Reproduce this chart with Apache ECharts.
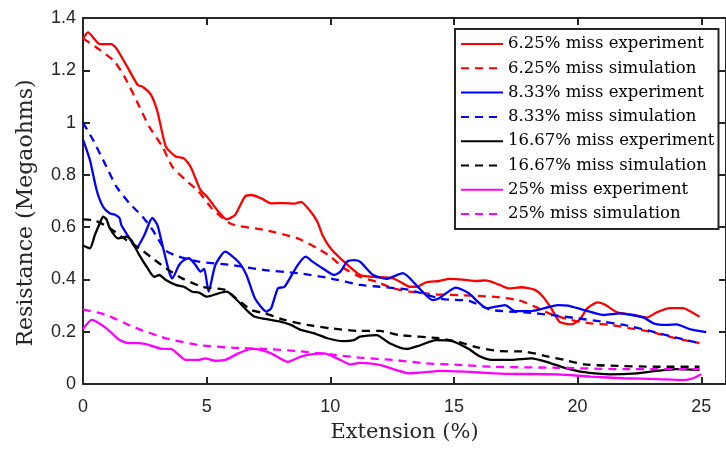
<!DOCTYPE html>
<html>
<head>
<meta charset="utf-8">
<script src="https://cdn.jsdelivr.net/npm/echarts@6/dist/echarts.min.js"></script>
<style>
html,body{margin:0;padding:0;background:#fff;}
#chart{width:726px;height:449px;}
</style>
</head>
<body>
<div id="chart"></div>
<script>
// ---- Data (x = Extension %, y = Resistance MΩ) ----
const seriesNames = [
  '6.25% miss experiment', '6.25% miss simulation',
  '8.33% miss experiment', '8.33% miss simulation',
  '16.67% miss experiment', '16.67% miss simulation',
  '25% miss experiment', '25% miss simulation'
];
const xTicks = [0, 5, 10, 15, 20, 25];
const yTicks = [0, 0.2, 0.4, 0.6, 0.8, 1, 1.2, 1.4];

const exp625 = [[0,1.32],[0.2,1.345],[0.68,1.30],[1.15,1.30],[1.35,1.284],[1.81,1.21],[2.21,1.144],[2.41,1.137],[2.75,1.106],[3.01,1.042],[3.35,0.908],[3.75,0.870],[4.08,0.863],[4.35,0.831],[4.75,0.742],[5.01,0.717],[5.48,0.659],[5.81,0.630],[6.15,0.647],[6.55,0.717],[6.81,0.723],[7.21,0.710],[7.61,0.691],[8.15,0.692],[8.55,0.69],[8.81,0.697],[9.21,0.659],[9.48,0.62],[9.68,0.570],[10.01,0.519],[10.55,0.468],[11.2,0.417],[11.73,0.41],[12.53,0.404],[12.93,0.385],[13.2,0.372],[13.5,0.372],[13.87,0.389],[14.4,0.394],[14.8,0.402],[15.47,0.398],[15.87,0.394],[16.27,0.396],[16.8,0.381],[17.2,0.366],[17.73,0.370],[18.27,0.360],[18.6,0.334],[18.93,0.29],[19.27,0.238],[19.73,0.228],[20.07,0.245],[20.4,0.29],[20.8,0.312],[21.13,0.302],[21.6,0.274],[22.27,0.264],[22.8,0.254],[23.2,0.274],[23.73,0.290],[24.27,0.29],[24.53,0.279],[24.93,0.257]];
const sim625 = [[0,1.322],[0.68,1.278],[1.28,1.233],[1.75,1.163],[2.28,1.061],[2.68,0.984],[3.21,0.908],[3.61,0.831],[4.15,0.780],[4.68,0.736],[5.21,0.672],[6.0,0.612],[7.35,0.589],[8.68,0.557],[9.48,0.519],[10.01,0.487],[10.55,0.443],[11.2,0.41],[11.87,0.391],[12.53,0.366],[13.2,0.353],[14.27,0.343],[15.2,0.340],[16.53,0.334],[17.6,0.321],[18.27,0.296],[18.93,0.267],[19.73,0.245],[20.53,0.232],[21.33,0.226],[22.13,0.213],[22.93,0.2],[23.87,0.177],[24.93,0.156]];
const exp833 = [[0,0.935],[0.28,0.857],[0.55,0.742],[0.81,0.678],[1.08,0.653],[1.28,0.648],[1.48,0.634],[1.55,0.608],[1.88,0.557],[2.15,0.519],[2.48,0.570],[2.8,0.635],[3.01,0.608],[3.21,0.532],[3.48,0.43],[3.61,0.404],[3.88,0.455],[4.08,0.474],[4.28,0.481],[4.55,0.455],[4.75,0.43],[4.9,0.44],[5.08,0.353],[5.35,0.455],[5.75,0.506],[6.28,0.468],[6.61,0.417],[6.95,0.328],[7.41,0.277],[7.61,0.29],[7.88,0.366],[8.15,0.372],[8.68,0.455],[9.01,0.487],[9.28,0.468],[9.68,0.443],[10.15,0.417],[10.41,0.43],[10.68,0.468],[10.95,0.474],[11.2,0.468],[11.73,0.417],[12.27,0.402],[12.93,0.424],[13.6,0.366],[14.13,0.321],[14.4,0.328],[15.07,0.369],[15.6,0.347],[16.33,0.29],[17.07,0.302],[17.47,0.279],[18.13,0.279],[18.67,0.29],[19.2,0.302],[19.6,0.30],[20.27,0.283],[21.07,0.264],[21.73,0.270],[22.67,0.254],[23.07,0.232],[23.6,0.226],[24,0.228],[24.53,0.21],[25.2,0.198]];
const sim833 = [[0,1.0],[0.41,0.933],[0.95,0.831],[1.35,0.755],[1.88,0.691],[2.41,0.64],[2.81,0.59],[3.35,0.51],[3.88,0.487],[4.68,0.468],[6.01,0.455],[7.35,0.436],[8.68,0.424],[10.01,0.404],[11.2,0.379],[12,0.372],[13.2,0.360],[14.53,0.325],[15.6,0.318],[16.53,0.283],[17.87,0.274],[18.93,0.264],[20,0.251],[21.07,0.238],[21.87,0.226],[22.93,0.203],[24,0.177],[24.93,0.156]];
const exp1667 = [[0,0.53],[0.28,0.519],[0.48,0.570],[0.68,0.615],[0.81,0.64],[0.95,0.63],[1.08,0.596],[1.41,0.557],[1.75,0.564],[1.95,0.551],[2.28,0.493],[2.61,0.443],[2.88,0.41],[3.08,0.417],[3.35,0.398],[3.75,0.379],[4.08,0.372],[4.41,0.353],[4.68,0.35],[5.01,0.334],[5.48,0.347],[5.81,0.353],[6.15,0.328],[6.68,0.277],[6.95,0.257],[7.35,0.249],[8.01,0.238],[8.41,0.226],[8.81,0.207],[9.35,0.194],[9.88,0.175],[10.55,0.164],[10.95,0.168],[11.2,0.181],[11.87,0.187],[12.4,0.156],[13.07,0.134],[13.6,0.147],[14.27,0.168],[14.93,0.164],[15.6,0.134],[16,0.108],[16.53,0.092],[17.33,0.092],[18.13,0.098],[18.8,0.083],[19.47,0.062],[20.27,0.045],[21.33,0.037],[22.4,0.041],[23.2,0.050],[24,0.057],[24.93,0.054]];
const sim1667 = [[0,0.63],[0.5,0.625],[1.08,0.596],[1.75,0.551],[2.28,0.519],[2.81,0.481],[3.35,0.443],[4.01,0.404],[4.81,0.372],[5.35,0.366],[5.75,0.36],[6.28,0.321],[6.81,0.283],[7.35,0.270],[8.15,0.245],[9.08,0.226],[10.01,0.213],[11.2,0.203],[12,0.203],[12.8,0.187],[14.4,0.175],[15.2,0.160],[16,0.139],[16.8,0.126],[17.87,0.124],[18.67,0.108],[19.47,0.092],[20.27,0.075],[21.33,0.07],[23.2,0.066],[24.93,0.066]];
const exp25 = [[0,0.21],[0.35,0.245],[0.55,0.238],[0.95,0.213],[1.48,0.168],[1.88,0.156],[2.28,0.156],[2.68,0.149],[3.21,0.134],[3.55,0.134],[3.88,0.111],[4.15,0.092],[4.68,0.092],[4.95,0.098],[5.35,0.089],[5.75,0.092],[6.28,0.117],[6.81,0.134],[7.21,0.13],[7.61,0.117],[8.28,0.085],[8.81,0.105],[9.21,0.113],[9.75,0.117],[10.28,0.098],[10.81,0.075],[11.2,0.081],[12,0.073],[13.2,0.041],[14.53,0.05],[15.87,0.045],[17.2,0.039],[19.2,0.037],[20.53,0.028],[21.87,0.022],[23.2,0.019],[24.27,0.015],[24.67,0.022],[25,0.037]];
const sim25 = [[0,0.285],[0.95,0.264],[2.01,0.219],[3.35,0.175],[4.68,0.149],[6.01,0.139],[7.35,0.134],[8.68,0.126],[10.01,0.113],[11.2,0.101],[12.53,0.092],[13.87,0.079],[15.2,0.073],[16.53,0.066],[19.2,0.062],[21.87,0.057],[24.93,0.057]];

const seriesData = [exp625, sim625, exp833, sim833, exp1667, sim1667, exp25, sim25];
const seriesColors = ['#ff0000','#ff0000','#0000ff','#0000ff','#000000','#000000','#ff00ff','#ff00ff'];
const seriesDashed = [false, true, false, true, false, true, false, true];

// ---- Chart ----
const axisColor = '#262626';
const tickFont = {fontFamily: 'Liberation Sans', fontSize: 18, color: axisColor};
const serif = 'DejaVu Serif';

const chart = echarts.init(document.getElementById('chart'), null, {renderer: 'canvas'});
const option = {
  animation: false,
  backgroundColor: '#ffffff',
  grid: {left: 83, top: 18, right: -7, bottom: 65, containLabel: false},
  xAxis: [{
    type: 'value', position: 'bottom', min: 0, max: 26, interval: 5,
    name: 'Extension (%)', nameLocation: 'middle', nameGap: 38,
    nameTextStyle: {fontFamily: serif, fontSize: 21, color: axisColor},
    axisLine: {show: true, onZero: false, lineStyle: {color: axisColor, width: 2}},
    axisTick: {show: true, inside: true, length: 7, lineStyle: {color: axisColor, width: 2}},
    axisLabel: Object.assign({margin: 14, showMaxLabel: false,
      formatter: v => (xTicks.indexOf(v) >= 0 ? String(v) : '')}, tickFont),
    splitLine: {show: false}
  }, {
    type: 'value', position: 'top', min: 0, max: 26, interval: 5,
    axisLine: {show: true, onZero: false, lineStyle: {color: axisColor, width: 2}},
    axisTick: {show: true, inside: true, length: 7, lineStyle: {color: axisColor, width: 2}},
    axisLabel: {show: false}, splitLine: {show: false}
  }],
  yAxis: [{
    type: 'value', position: 'left', min: 0, max: 1.4, interval: 0.2,
    name: 'Resistance (Megaohms)', nameLocation: 'middle', nameGap: 46,
    nameTextStyle: {fontFamily: serif, fontSize: 22, color: axisColor, padding: [0, 24, 0, 0]},
    axisLine: {show: true, onZero: false, lineStyle: {color: axisColor, width: 2}},
    axisTick: {show: true, inside: true, length: 7, lineStyle: {color: axisColor, width: 2}},
    axisLabel: Object.assign({margin: 7,
      formatter: v => { const t = yTicks.find(k => Math.abs(k - v) < 1e-6); return t === undefined ? '' : String(t); }}, tickFont),
    splitLine: {show: false}
  }, {
    type: 'value', position: 'right', min: 0, max: 1.4, interval: 0.2,
    axisLine: {show: true, onZero: false, lineStyle: {color: axisColor, width: 2}},
    axisTick: {show: true, inside: true, length: 7, lineStyle: {color: axisColor, width: 2}},
    axisLabel: {show: false}, splitLine: {show: false}
  }],
  legend: {
    orient: 'vertical', left: 455, top: 29,
    padding: [5, 4, 5, 5],
    itemWidth: 42, itemHeight: 14, itemGap: 4.3,
    backgroundColor: '#ffffff', borderColor: axisColor, borderWidth: 2,
    itemStyle: {opacity: 0, borderWidth: 0},
    textStyle: {fontFamily: serif, fontSize: 16.5, color: '#000', lineHeight: 20},
    data: seriesNames
  },
  series: seriesNames.map((name, i) => ({
    name: name, type: 'line', xAxisIndex: 0, yAxisIndex: 0,
    data: seriesData[i], showSymbol: false, symbol: 'none', smooth: 0.2,
    color: seriesColors[i],
    lineStyle: {color: seriesColors[i], width: 2.3, type: seriesDashed[i] ? [8, 6] : 'solid'},
    emphasis: {disabled: true}
  }))
};
chart.setOption(option);
</script>
</body>
</html>
